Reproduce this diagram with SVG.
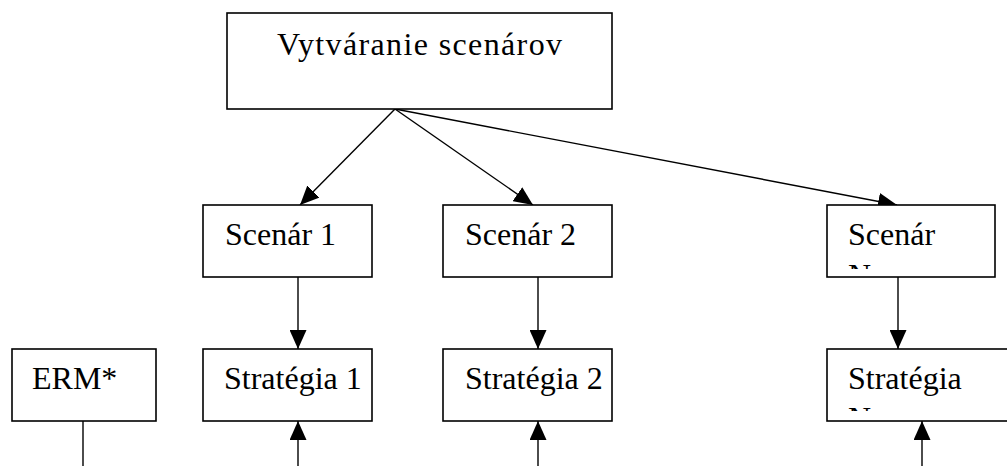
<svg xmlns="http://www.w3.org/2000/svg" width="1007" height="466" viewBox="0 0 1007 466">
<style>
.box{fill:#fff;stroke:#000;stroke-width:1.6}
.lbl{font-family:"Liberation Serif","Times New Roman",Tinos,serif;font-size:32px;fill:#000}
.c{stroke:#000;stroke-width:1.4;fill:none}
.a{marker-end:url(#ah)}
</style>
<defs>
<marker id="ah" markerUnits="userSpaceOnUse" markerWidth="19" markerHeight="17" viewBox="0 0 19 17" refX="19" refY="8.5" orient="auto">
<path d="M0,0 L19,8.5 L0,17 z" fill="#000"/>
</marker>
<clipPath id="clipSN"><rect x="828" y="206" width="166" height="63"/></clipPath>
<clipPath id="clipTN"><rect x="828" y="350" width="200" height="61"/></clipPath>
</defs>
<rect width="1007" height="466" fill="#fff"/>
<g id="connectors">
<line class="c a" x1="395" y1="109" x2="300" y2="205"/>
<line class="c a" x1="395" y1="109" x2="533" y2="205"/>
<line class="c a" x1="395" y1="109" x2="897" y2="205"/>
<line class="c a" x1="298" y1="277" x2="298" y2="349"/>
<line class="c a" x1="538" y1="277" x2="538" y2="349"/>
<line class="c a" x1="898" y1="277" x2="898" y2="349"/>
<line class="c a" x1="298" y1="466" x2="298" y2="421"/>
<line class="c a" x1="538" y1="466" x2="538" y2="421"/>
<line class="c a" x1="922" y1="466" x2="922" y2="421"/>
<line class="c" x1="83" y1="421" x2="83" y2="466"/>
</g>
<g id="top">
<rect class="box" x="227" y="13" width="385" height="96"/>
<text class="lbl" x="277" y="55" textLength="285" lengthAdjust="spacing">Vytváranie scenárov</text>
</g>
<g id="scenar1">
<rect class="box" x="203" y="205" width="169" height="72"/>
<text class="lbl" x="225" y="245">Scenár 1</text>
</g>
<g id="scenar2">
<rect class="box" x="443" y="205" width="169" height="72"/>
<text class="lbl" x="465" y="245">Scenár 2</text>
</g>
<g id="scenarN">
<rect class="box" x="827" y="205" width="168" height="72"/>
<g clip-path="url(#clipSN)">
<text class="lbl" x="848" y="245">Scenár</text>
<text class="lbl" x="848" y="286">N</text>
</g>
</g>
<g id="erm">
<rect class="box" x="12" y="349" width="144" height="72"/>
<text class="lbl" x="32" y="389">ERM*</text>
</g>
<g id="strategia1">
<rect class="box" x="203" y="349" width="169" height="72"/>
<text class="lbl" x="224" y="389">Stratégia 1</text>
</g>
<g id="strategia2">
<rect class="box" x="443" y="349" width="169" height="72"/>
<text class="lbl" x="465" y="389">Stratégia 2</text>
</g>
<g id="strategiaN">
<rect class="box" x="827" y="349" width="200" height="72"/>
<g clip-path="url(#clipTN)">
<text class="lbl" x="848" y="389">Stratégia</text>
<text class="lbl" x="848" y="429">N</text>
</g>
</g>
</svg>
